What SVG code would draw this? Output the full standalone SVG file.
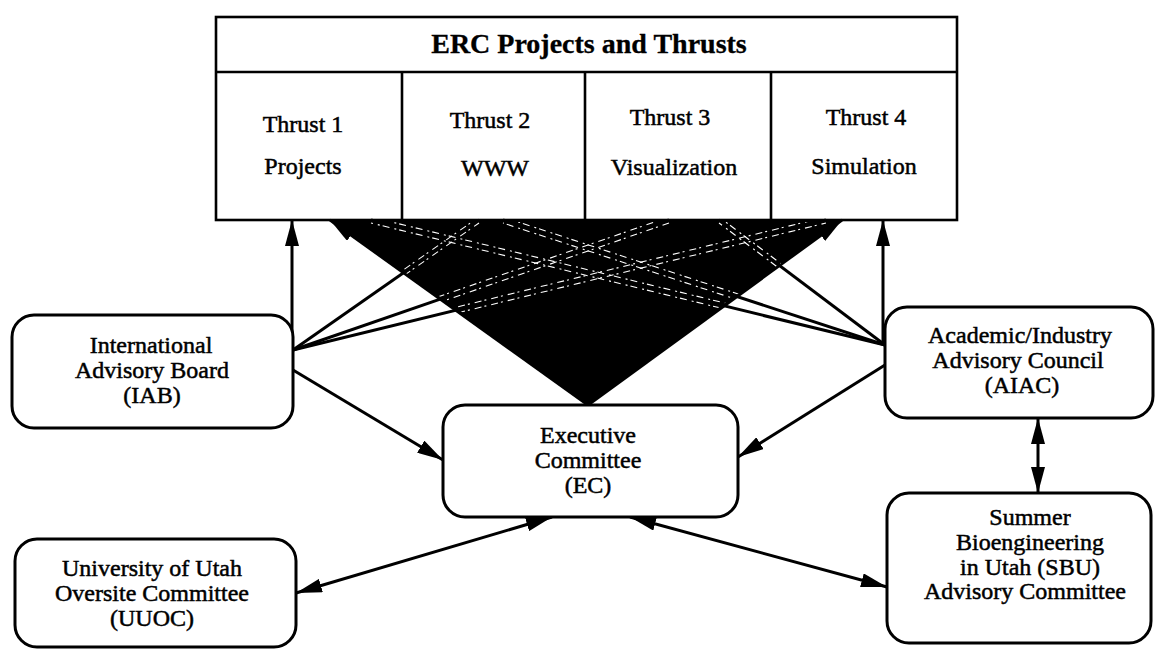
<svg xmlns="http://www.w3.org/2000/svg" width="1156" height="650" viewBox="0 0 1156 650">
<style>
.box{fill:#fff;stroke:#000;stroke-width:3}
.cell{fill:#fff;stroke:#000;stroke-width:2.6}
.t{font-family:"Liberation Serif","Times New Roman",serif;font-size:24px;fill:#000;text-anchor:middle;stroke:#000;stroke-width:0.5}
.title{font-family:"Liberation Serif","Times New Roman",serif;font-size:28px;font-weight:bold;fill:#000;text-anchor:middle;stroke:#000;stroke-width:0.3}
.c{fill:none;stroke:#000;stroke-width:3}
.tex{fill:none;stroke:#fff;stroke-width:1.1;stroke-dasharray:7 3 2 5}
</style>
<defs>
<marker id="ah" viewBox="0 0 26 14" refX="26" refY="7" markerWidth="26" markerHeight="14" markerUnits="userSpaceOnUse" orient="auto-start-reverse"><path d="M0,0 L26,7 L0,14 Z" fill="#000"/></marker>
<clipPath id="tri"><polygon points="333,222 839,222 588,400"/></clipPath>
</defs>
<rect width="1156" height="650" fill="#fff"/>

<g id="table">
<rect class="cell" x="216" y="17" width="741" height="203"/>
<line class="cell" x1="216" y1="72" x2="957" y2="72"/>
<line class="cell" x1="402" y1="72" x2="402" y2="220"/>
<line class="cell" x1="585" y1="72" x2="585" y2="220"/>
<line class="cell" x1="771" y1="72" x2="771" y2="220"/>
<text class="title" x="589" y="53">ERC Projects and Thrusts</text>
<g id="thrust1"><text class="t" x="303" y="132">Thrust 1</text><text class="t" x="303" y="174">Projects</text></g>
<g id="thrust2"><text class="t" x="490" y="128">Thrust 2</text><text class="t" x="495" y="176">WWW</text></g>
<g id="thrust3"><text class="t" x="670" y="125">Thrust 3</text><text class="t" x="674" y="175">Visualization</text></g>
<g id="thrust4"><text class="t" x="866" y="125">Thrust 4</text><text class="t" x="864" y="174">Simulation</text></g>
</g>

<g id="connectors">
<polygon points="330,220 842,220 588,405" fill="#000"/>
<path class="c" d="M588,405 L330,220" marker-end="url(#ah)"/>
<path class="c" d="M588,405 L842,220" marker-end="url(#ah)"/>
<path class="c" d="M292,350 L292,220" marker-end="url(#ah)"/>
<path class="c" d="M293,350 L479,220" marker-end="url(#ah)"/>
<path class="c" d="M293,350 L669,220" marker-end="url(#ah)"/>
<path class="c" d="M293,350 L826,220" marker-end="url(#ah)"/>
<path class="c" d="M293,370 L443,460" marker-end="url(#ah)"/>
<path class="c" d="M883,345 L883,220" marker-end="url(#ah)"/>
<path class="c" d="M885,345 L719,220" marker-end="url(#ah)"/>
<path class="c" d="M885,345 L503,220" marker-end="url(#ah)"/>
<path class="c" d="M885,345 L371,220" marker-end="url(#ah)"/>
<path class="c" d="M885,365 L738,457" marker-end="url(#ah)"/>
<path class="c" d="M296,593 L552,517" marker-start="url(#ah)" marker-end="url(#ah)"/>
<path class="c" d="M630,517 L887,587" marker-start="url(#ah)" marker-end="url(#ah)"/>
<path class="c" d="M1038,418 L1038,493" marker-start="url(#ah)" marker-end="url(#ah)"/>
<g clip-path="url(#tri)">
<line class="tex" x1="293" y1="347" x2="479" y2="217"/>
<line class="tex" x1="293" y1="353" x2="479" y2="223"/>
<line class="tex" x1="293" y1="347" x2="669" y2="217"/>
<line class="tex" x1="293" y1="353" x2="669" y2="223"/>
<line class="tex" x1="293" y1="347" x2="826" y2="217"/>
<line class="tex" x1="293" y1="353" x2="826" y2="223"/>
<line class="tex" x1="885" y1="342" x2="719" y2="217"/>
<line class="tex" x1="885" y1="348" x2="719" y2="223"/>
<line class="tex" x1="885" y1="342" x2="503" y2="217"/>
<line class="tex" x1="885" y1="348" x2="503" y2="223"/>
<line class="tex" x1="885" y1="342" x2="371" y2="217"/>
<line class="tex" x1="885" y1="348" x2="371" y2="223"/>
</g>
</g>

<g id="iab">
<rect class="box" x="12" y="315" width="281" height="113" rx="22"/>
<text class="t" x="151" y="353">International</text>
<text class="t" x="152" y="378">Advisory Board</text>
<text class="t" x="152" y="403">(IAB)</text>
</g>
<g id="uuoc">
<rect class="box" x="15" y="539" width="281" height="108" rx="22"/>
<text class="t" x="152" y="576">University of Utah</text>
<text class="t" x="152" y="601">Oversite Committee</text>
<text class="t" x="152" y="626">(UUOC)</text>
</g>
<g id="ec">
<rect class="box" x="443" y="405" width="295" height="112" rx="22"/>
<text class="t" x="588" y="443">Executive</text>
<text class="t" x="588" y="468">Committee</text>
<text class="t" x="588" y="493">(EC)</text>
</g>
<g id="aiac">
<rect class="box" x="885" y="307" width="268" height="111" rx="22"/>
<text class="t" x="1020" y="343">Academic/Industry</text>
<text class="t" x="1018" y="368">Advisory Council</text>
<text class="t" x="1022" y="393">(AIAC)</text>
</g>
<g id="sbu">
<rect class="box" x="887" y="493" width="264" height="150" rx="22"/>
<text class="t" x="1030" y="525">Summer</text>
<text class="t" x="1030" y="550">Bioengineering</text>
<text class="t" x="1030" y="575">in Utah (SBU)</text>
<text class="t" x="1025" y="599">Advisory Committee</text>
</g>
</svg>
